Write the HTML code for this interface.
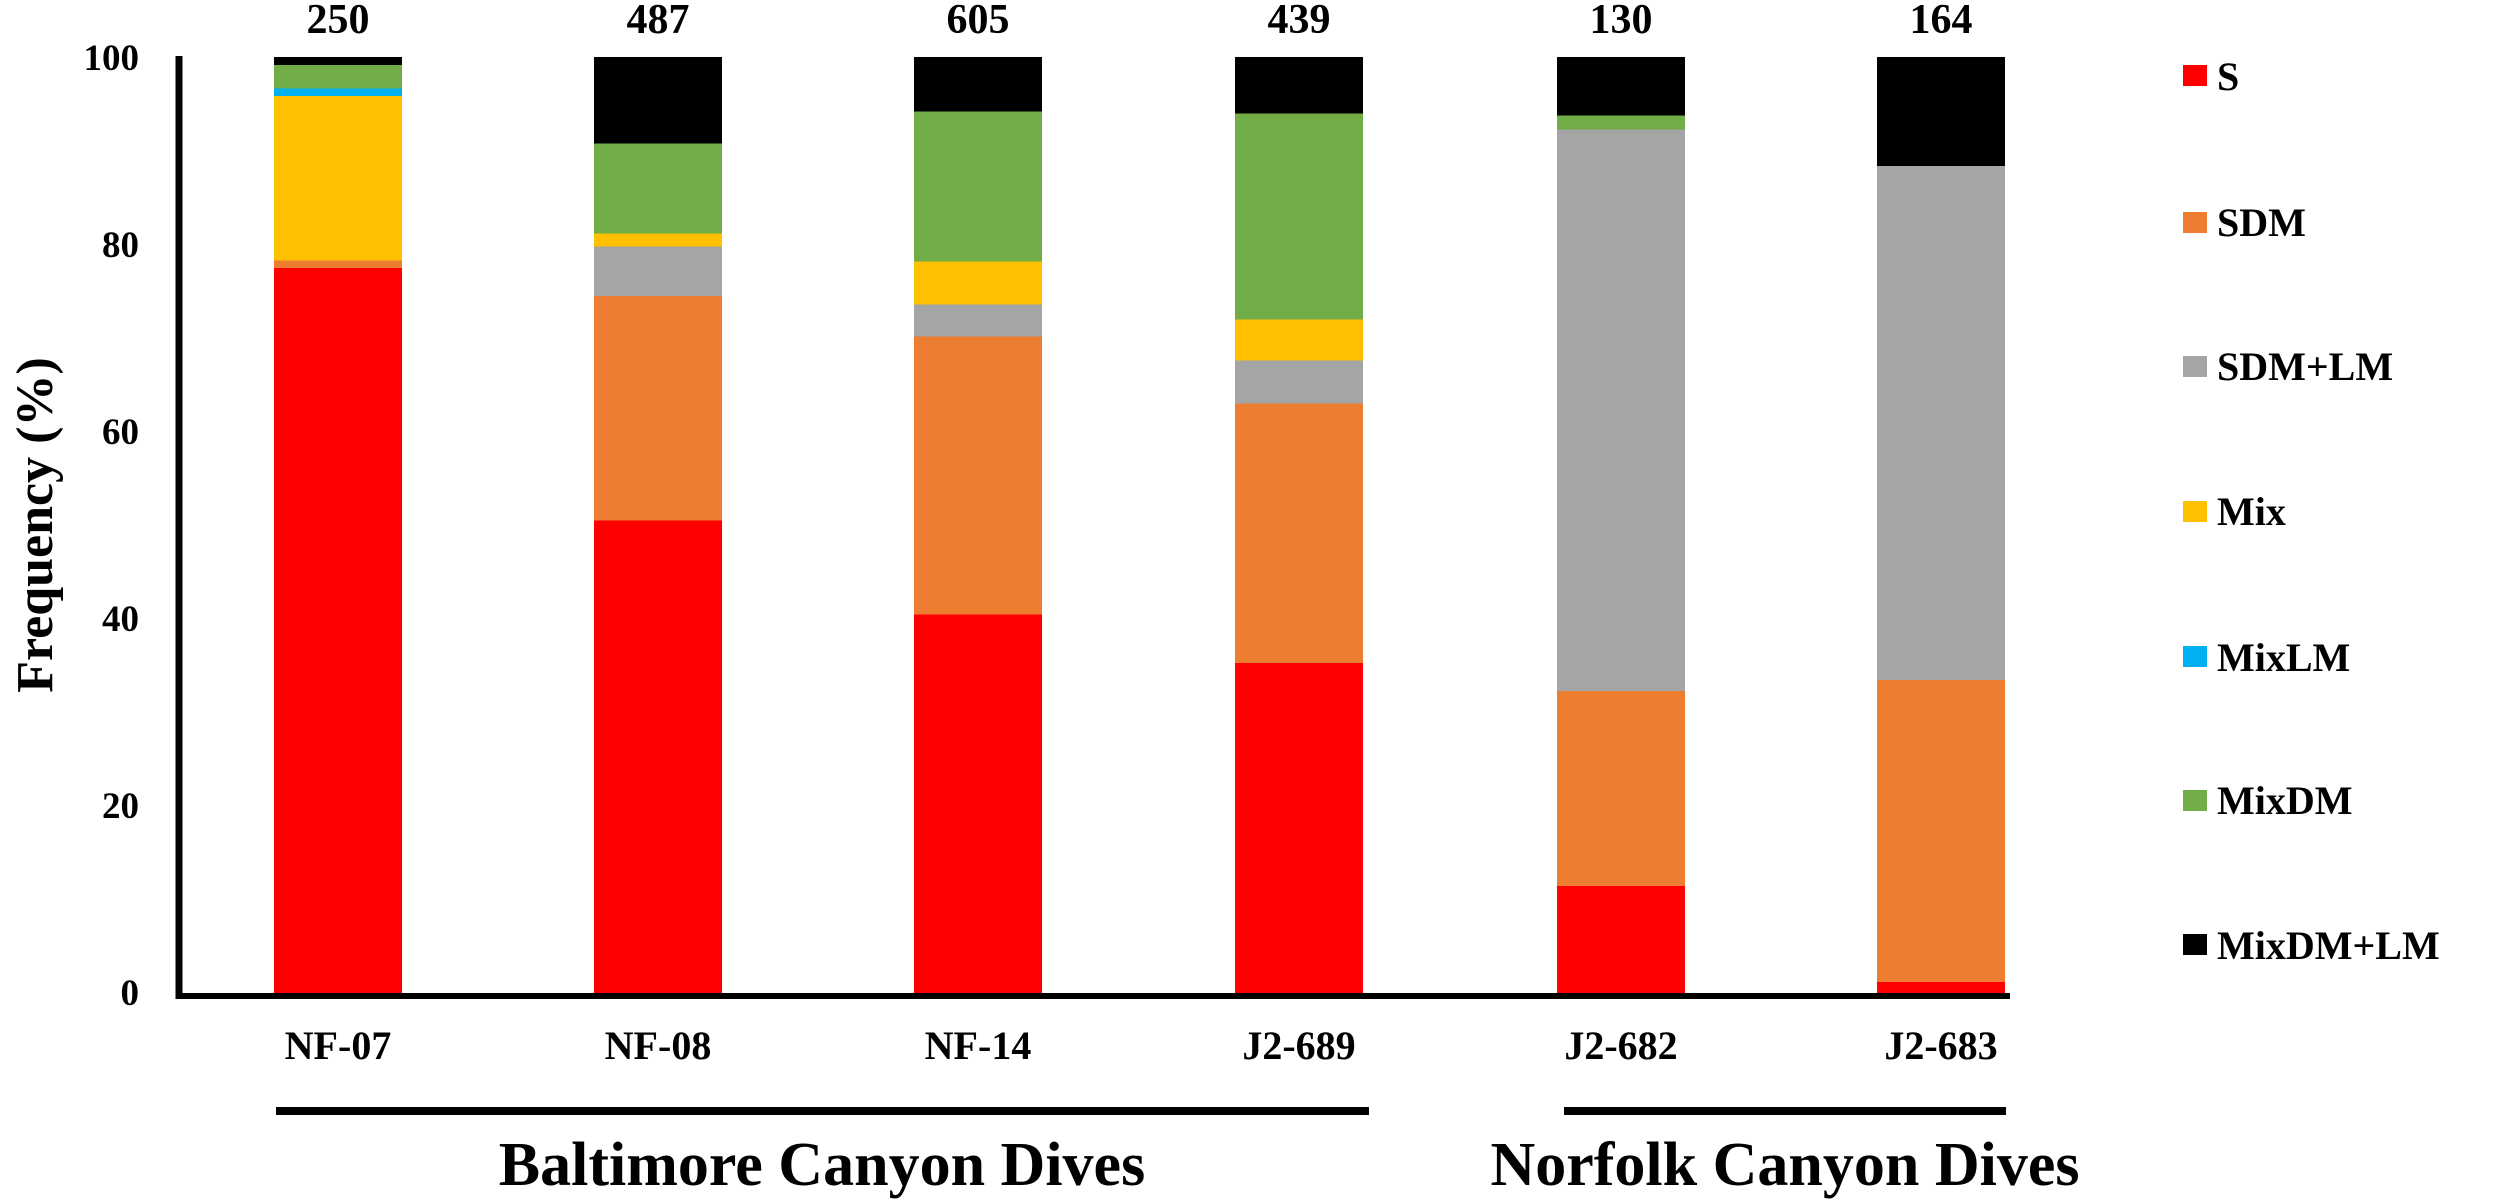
<!DOCTYPE html>
<html><head><meta charset="utf-8"><style>html,body{margin:0;padding:0;background:#fff}svg{display:block}text{font-family:"Liberation Serif",serif;font-weight:bold;fill:#000}</style></head>
<body>
<svg width="2500" height="1203" viewBox="0 0 2500 1203" xmlns="http://www.w3.org/2000/svg">
<g shape-rendering="crispEdges">
<!-- NF-07 -->
<rect x="274" y="267.6" width="128" height="725.4" fill="#ff0000"/>
<rect x="274" y="260.1" width="128" height="8" fill="#ed7d31"/>
<rect x="274" y="95.4" width="128" height="165" fill="#ffc000"/>
<rect x="274" y="87.9" width="128" height="8" fill="#00b0f0"/>
<rect x="274" y="64.5" width="128" height="24" fill="#70ad47"/>
<rect x="274" y="57" width="128" height="8" fill="#000"/>
<!-- NF-08 -->
<rect x="594" y="520.3" width="128" height="472.7" fill="#ff0000"/>
<rect x="594" y="295.7" width="128" height="225" fill="#ed7d31"/>
<rect x="594" y="246.1" width="128" height="50" fill="#a5a5a5"/>
<rect x="594" y="233" width="128" height="13.5" fill="#ffc000"/>
<rect x="594" y="143.1" width="128" height="90.3" fill="#70ad47"/>
<rect x="594" y="57" width="128" height="86.5" fill="#000"/>
<!-- NF-14 -->
<rect x="914" y="613.9" width="128" height="379.1" fill="#ff0000"/>
<rect x="914" y="335.9" width="128" height="278.5" fill="#ed7d31"/>
<rect x="914" y="304.1" width="128" height="32.2" fill="#a5a5a5"/>
<rect x="914" y="261" width="128" height="43.5" fill="#ffc000"/>
<rect x="914" y="111.3" width="128" height="150.1" fill="#70ad47"/>
<rect x="914" y="57" width="128" height="54.7" fill="#000"/>
<!-- J2-689 -->
<rect x="1235" y="662.6" width="128" height="330.4" fill="#ff0000"/>
<rect x="1235" y="403.3" width="128" height="259.7" fill="#ed7d31"/>
<rect x="1235" y="360.3" width="128" height="43.4" fill="#a5a5a5"/>
<rect x="1235" y="319.1" width="128" height="41.6" fill="#ffc000"/>
<rect x="1235" y="113.2" width="128" height="206.3" fill="#70ad47"/>
<rect x="1235" y="57" width="128" height="56.6" fill="#000"/>
<!-- J2-682 -->
<rect x="1557" y="885.4" width="128" height="107.6" fill="#ff0000"/>
<rect x="1557" y="690.7" width="128" height="195.1" fill="#ed7d31"/>
<rect x="1557" y="129.1" width="128" height="562" fill="#a5a5a5"/>
<rect x="1557" y="115" width="128" height="14.5" fill="#70ad47"/>
<rect x="1557" y="57" width="128" height="58.4" fill="#000"/>
<!-- J2-683 -->
<rect x="1877" y="981.8" width="128" height="11.2" fill="#ff0000"/>
<rect x="1877" y="679.4" width="128" height="302.8" fill="#ed7d31"/>
<rect x="1877" y="165.6" width="128" height="514.2" fill="#a5a5a5"/>
<rect x="1877" y="57" width="128" height="109" fill="#000"/>
</g>
<line x1="179" y1="56" x2="179" y2="999" stroke="#000" stroke-width="7"/>
<line x1="176" y1="996" x2="2010" y2="996" stroke="#000" stroke-width="6"/>
<g font-size="37" text-anchor="end">
<text x="139" y="70">100</text>
<text x="139" y="257">80</text>
<text x="139" y="444">60</text>
<text x="139" y="631">40</text>
<text x="139" y="818">20</text>
<text x="139" y="1005">0</text>
</g>
<text transform="translate(52,525) rotate(-90)" font-size="52" text-anchor="middle">Frequency (%)</text>
<g font-size="42" text-anchor="middle">
<text x="338" y="33">250</text>
<text x="658" y="33">487</text>
<text x="978" y="33">605</text>
<text x="1299" y="33">439</text>
<text x="1621" y="33">130</text>
<text x="1941" y="33">164</text>
</g>
<g font-size="40" text-anchor="middle">
<text x="338" y="1059">NF-07</text>
<text x="658" y="1059">NF-08</text>
<text x="978" y="1059">NF-14</text>
<text x="1299" y="1059">J2-689</text>
<text x="1621" y="1059">J2-682</text>
<text x="1941" y="1059">J2-683</text>
</g>
<line x1="276" y1="1111" x2="1369" y2="1111" stroke="#000" stroke-width="8"/>
<line x1="1564" y1="1111" x2="2006" y2="1111" stroke="#000" stroke-width="8"/>
<g font-size="62" text-anchor="middle">
<text x="822" y="1185">Baltimore Canyon Dives</text>
<text x="1785" y="1185">Norfolk Canyon Dives</text>
</g>
<g font-size="40">
<rect x="2183" y="65" width="24" height="21" fill="#ff0000"/><text x="2217" y="90">S</text>
<rect x="2183" y="212" width="24" height="21" fill="#ed7d31"/><text x="2217" y="236">SDM</text>
<rect x="2183" y="356" width="24" height="21" fill="#a5a5a5"/><text x="2217" y="380">SDM+LM</text>
<rect x="2183" y="501" width="24" height="21" fill="#ffc000"/><text x="2217" y="525">Mix</text>
<rect x="2183" y="646" width="24" height="21" fill="#00b0f0"/><text x="2217" y="671">MixLM</text>
<rect x="2183" y="790" width="24" height="21" fill="#70ad47"/><text x="2217" y="814">MixDM</text>
<rect x="2183" y="934" width="24" height="21" fill="#000000"/><text x="2217" y="959">MixDM+LM</text>
</g>
</svg>
</body></html>
